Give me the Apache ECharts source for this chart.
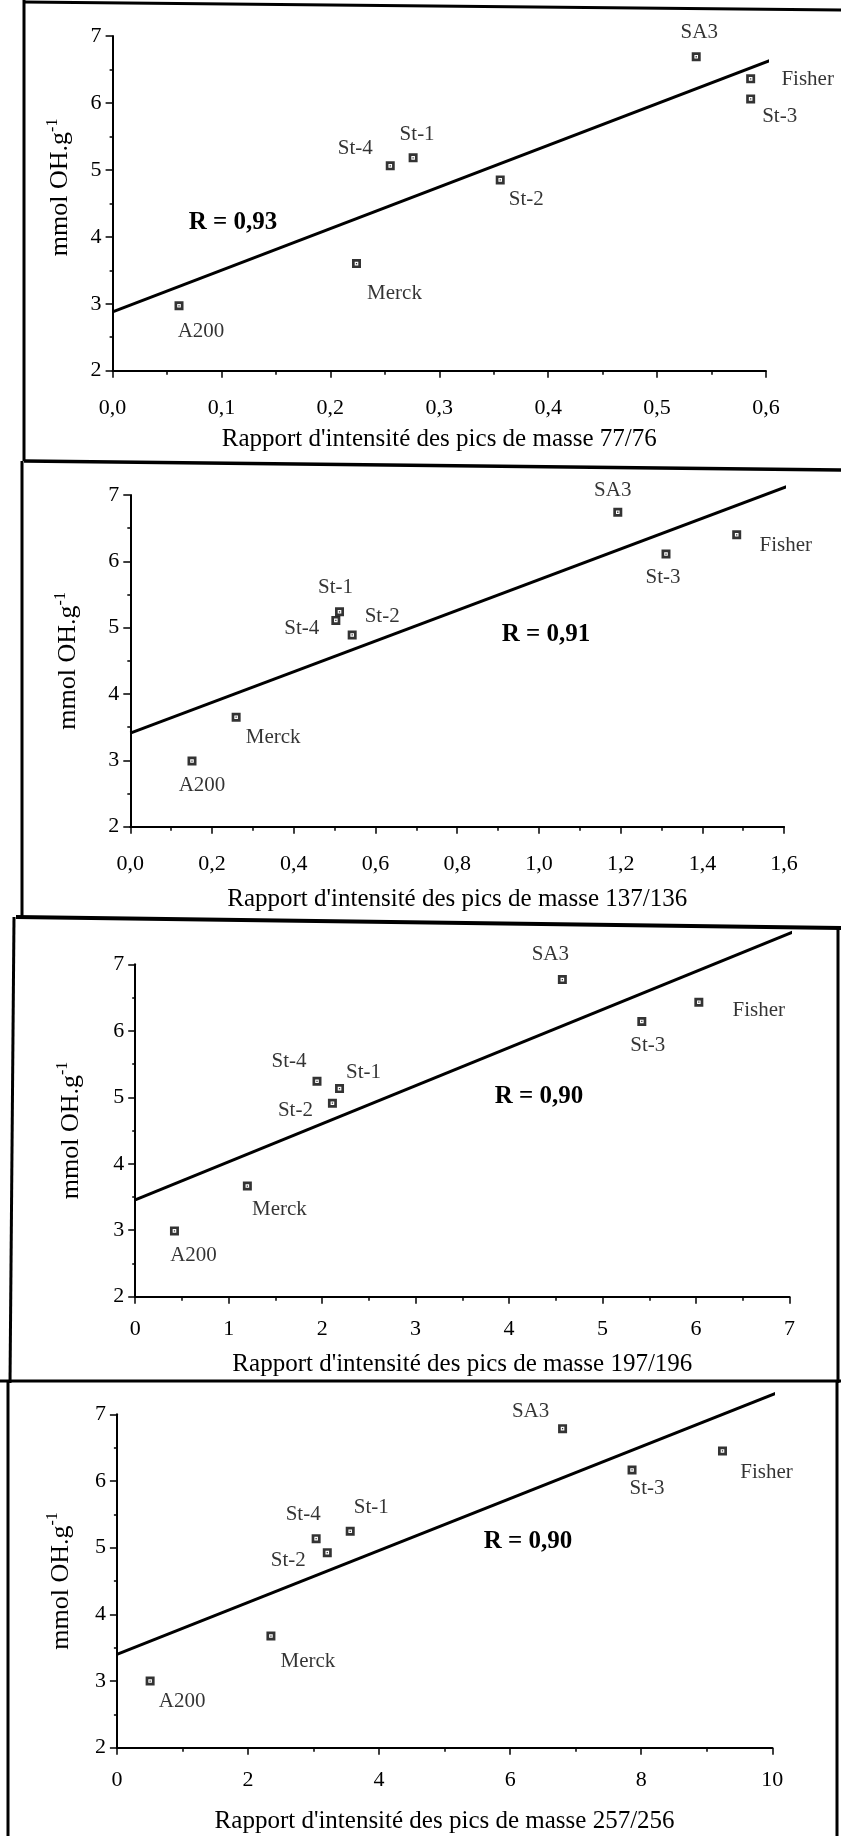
<!DOCTYPE html>
<html><head><meta charset="utf-8">
<script src="https://cdn.jsdelivr.net/npm/echarts@6/dist/echarts.min.js"></script>
<style>html,body{margin:0;padding:0;background:#fff}#c{width:841px;height:1836px}</style>
</head><body><div id="c"></div>
<script>
// ---------- DATA ----------
const samples = ['A200', 'Merck', 'St-4', 'St-1', 'St-2', 'SA3', 'Fisher', 'St-3'];

const ratio77 = [0.061, 0.224, 0.255, 0.276, 0.356, 0.536, 0.586, 0.586];
const oh77    = [2.97, 3.60, 5.06, 5.18, 4.85, 6.69, 6.36, 6.06];
const fit77X  = [0, 0.613];
const fit77Y  = [2.88, 6.69];

const ratio137 = [0.151, 0.259, 0.503, 0.512, 0.543, 1.193, 1.484, 1.311];
const oh137    = [2.99, 3.65, 5.11, 5.24, 4.89, 6.74, 6.40, 6.11];
const fit137X  = [0, 1.629];
const fit137Y  = [3.41, 7.18];

const ratio197 = [0.42, 1.20, 1.945, 2.186, 2.11, 4.57, 6.03, 5.42];
const oh197    = [2.99, 3.665, 5.24, 5.13, 4.91, 6.77, 6.43, 6.14];
const fit197X  = [0, 7.13];
const fit197Y  = [3.455, 7.54];

const ratio257 = [0.507, 2.35, 3.04, 3.56, 3.21, 6.80, 9.24, 7.86];
const oh257    = [3.00, 3.675, 5.135, 5.245, 4.925, 6.785, 6.45, 6.165];
const fit257X  = [0, 10.16];
const fit257Y  = [3.40, 7.355];

const rValues = ['R = 0,93', 'R = 0,91', 'R = 0,90', 'R = 0,90'];
const xTitles = [
  "Rapport d'intensité des pics de masse 77/76",
  "Rapport d'intensité des pics de masse 137/136",
  "Rapport d'intensité des pics de masse 197/196",
  "Rapport d'intensité des pics de masse 257/256"
];
const yTitle = 'mmol OH.g{sup|-1}';
const xMaxes = [0.6, 1.6, 7, 10];
const xIntervals = [0.1, 0.2, 1, 2];
const xDecimals = [1, 1, 0, 0];
const yMin = 2, yMax = 7, yInterval = 1;

// ---------- LAYOUT ----------
const FONT = "'Liberation Serif', 'Times New Roman', serif";
const panelsLayout = [
  {left: 112.6, top: 36,    width: 653.3, height: 334.7, yGap: 36, yShift: 32, xGap: 56, xMargin: 27, r: [233, 223],
   off: [[22,26],[38,30],[-35,-17],[4,-23],[26,20],[3,-24],[57,1],[29,18]]},
  {left: 130.3, top: 495,   width: 653.8, height: 331.7, yGap: 46, yShift: 0, xGap: 60, xMargin: 27, r: [546, 635],
   off: [[10,24],[37,20],[-34,8],[-4,-24],[30,-18],[-5,-22],[49,11],[-3,23]]},
  {left: 135.2, top: 964.3, width: 654.3, height: 332.4, yGap: 48, yShift: 0, xGap: 55, xMargin: 22, r: [539, 1097],
   off: [[19,25],[32,23],[-28,-20],[24,-16],[-37,7],[-12,-25],[60,8],[6,24]]},
  {left: 116.9, top: 1414.3, width: 655.4, height: 333.4, yGap: 40, yShift: 0, xGap: 61, xMargin: 22, r: [528, 1542],
   off: [[32,20],[37,25],[-13,-24],[21,-24],[-39,8],[-32,-17],[44,22],[15,19]]}
];

const xs = [ratio77, ratio137, ratio197, ratio257];
const ys = [oh77, oh137, oh197, oh257];
const fitXs = [fit77X, fit137X, fit197X, fit257X];
const fitYs = [fit77Y, fit137Y, fit197Y, fit257Y];

const SYMBOL = 'path://M0,0H10V10H0Z M3,3V7H7V3Z M4.3,4.3H5.7V5.7H4.3Z';

const grids = [], xAxes = [], yAxes = [], series = [], graphics = [];

panelsLayout.forEach((L, i) => {
  grids.push({left: L.left, top: L.top, width: L.width, height: L.height, containLabel: false, outerBoundsMode: 'none'});
  const dec = xDecimals[i];
  xAxes.push({
    type: 'value', gridIndex: i, min: 0, max: xMaxes[i], interval: xIntervals[i],
    name: xTitles[i], nameLocation: 'middle', nameGap: L.xGap,
    nameTextStyle: {fontFamily: FONT, fontSize: 25, color: '#000'},
    axisLine: {show: true, onZero: false, lineStyle: {color: '#000', width: 2}},
    axisTick: {show: true, inside: false, length: 7, lineStyle: {color: '#000', width: 1.5}},
    minorTick: {show: true, splitNumber: 2, length: 4, lineStyle: {color: '#000', width: 1.5}},
    splitLine: {show: false}, minorSplitLine: {show: false},
    axisLabel: {margin: L.xMargin, fontFamily: FONT, fontSize: 22, color: '#000',
      formatter: v => (dec ? Number(v).toFixed(dec).replace('.', ',') : String(Math.round(v)))}
  });
  yAxes.push({
    type: 'value', gridIndex: i, min: yMin, max: yMax, interval: yInterval,
    name: yTitle, nameLocation: 'middle', nameRotate: 90, nameGap: L.yGap,
    nameTextStyle: {fontFamily: FONT, fontSize: 26, color: '#000', lineHeight: 32,
      padding: [0, 0, 0, L.yShift],
      rich: {sup: {fontFamily: FONT, fontSize: 16, color: '#000', verticalAlign: 'top', lineHeight: 16}}},
    axisLine: {show: true, onZero: false, lineStyle: {color: '#000', width: 2}},
    axisTick: {show: true, inside: false, length: 7, lineStyle: {color: '#000', width: 1.5}},
    minorTick: {show: true, splitNumber: 2, length: 3, lineStyle: {color: '#000', width: 1.5}},
    splitLine: {show: false}, minorSplitLine: {show: false},
    axisLabel: {margin: 11, fontFamily: FONT, fontSize: 22, color: '#000'}
  });
  series.push({
    type: 'line', xAxisIndex: i, yAxisIndex: i, clip: false, silent: true,
    symbol: 'none', lineStyle: {color: '#000', width: 3},
    data: fitXs[i].map((x, k) => [x, fitYs[i][k]])
  });
  series.push({
    type: 'scatter', xAxisIndex: i, yAxisIndex: i, clip: false,
    symbol: SYMBOL, symbolSize: 9, itemStyle: {color: '#000'},
    label: {show: true, position: 'inside', formatter: '{b}', fontFamily: FONT, fontSize: 21, color: '#000'},
    data: samples.map((s, k) => ({name: s, value: [xs[i][k], ys[i][k]], label: {offset: L.off[k]}}))
  });
  graphics.push({
    type: 'text', x: L.r[0], y: L.r[1],
    style: {text: rValues[i], fill: '#000', font: 'bold 25px ' + FONT, textAlign: 'center', textVerticalAlign: 'middle'}
  });
});

// panel frames (scanned figure borders)
const frameLines = [
  [24, 2, 841, 10, 3],
  [24, 0, 24, 461, 3],
  [24, 461, 841, 470, 3.5],
  [22, 461, 22, 918, 3],
  [16, 917, 841, 928, 4],
  [14, 917, 10, 1383, 3],
  [838, 928, 838, 1383, 3],
  [0, 1381, 841, 1381, 3],
  [8, 1381, 8, 1836, 3],
  [837, 1381, 837, 1836, 3]
];
frameLines.forEach(f => graphics.push({
  type: 'line', shape: {x1: f[0], y1: f[1], x2: f[2], y2: f[3]},
  style: {stroke: '#000', lineWidth: f[4]}, silent: true
}));

const chart = echarts.init(document.getElementById('c'), null, {renderer: 'canvas'});
chart.setOption({
  animation: false,
  backgroundColor: '#fff',
  grid: grids, xAxis: xAxes, yAxis: yAxes, series: series,
  graphic: graphics
});
</script></body></html>
